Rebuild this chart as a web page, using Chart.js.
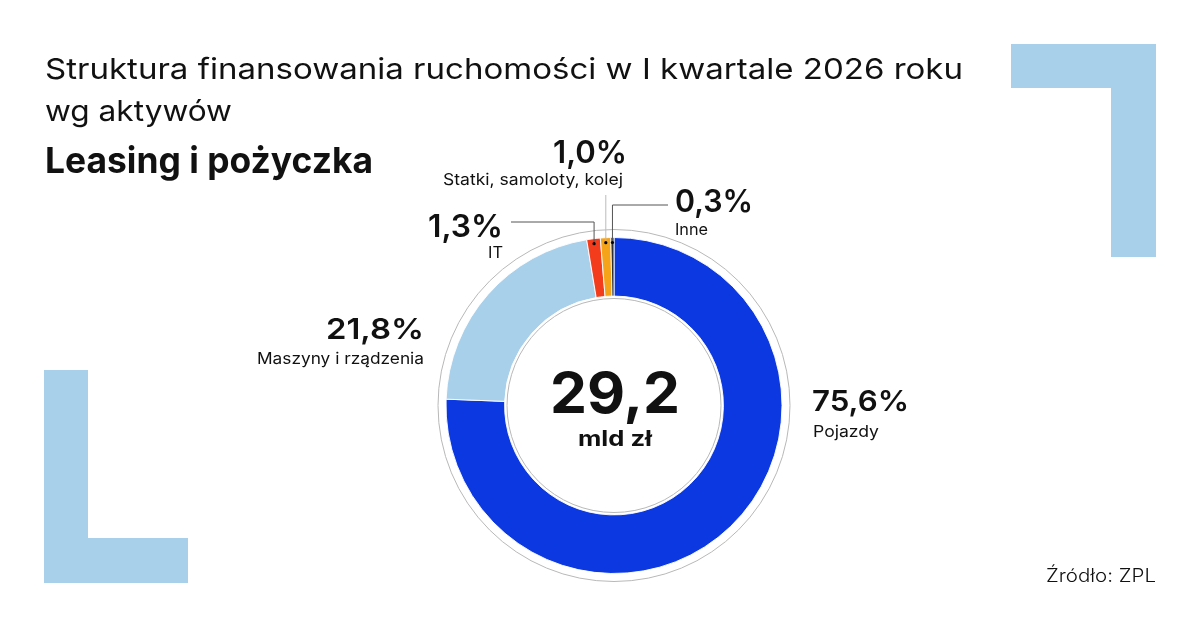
<!DOCTYPE html>
<html>
<head>
<meta charset="utf-8">
<script src="https://cdn.jsdelivr.net/npm/chart.js@4/dist/chart.umd.min.js"></script>
<style>
  html, body { margin: 0; padding: 0; background: #fff; }
  #wrap { width: 1200px; height: 627px; position: relative; }
</style>
</head>
<body>
<div id="wrap"><canvas id="chart" width="1200" height="627"></canvas></div>
<script>
const categories = ["Pojazdy", "Maszyny i rządzenia", "IT", "Statki, samoloty, kolej", "Inne"]
const shares = [75.6, 21.8, 1.3, 1.0, 0.3]
const sliceColors = ["#0b38e0", "#a9d0ea", "#f23c1c", "#f5a41a", "#2b2f36"]
const totalValue = "29,2"
const totalUnit = "mld zł"
const shareLabels = shares.map(v => v.toFixed(1).replace(".", ",") + "%")

const FONT = "Inter, 'Open Sans', sans-serif"

// draw text squeezed/stretched to a target width
function fitText(ctx, text, x, y, font, targetW, align) {
    ctx.font = font
    const w = ctx.measureText(text).width
    let left = x
    if (align == "right") left = x - targetW
    if (align == "center") left = x - targetW / 2
    ctx.save()
    ctx.translate(left, y)
    ctx.scale(targetW / w, 1)
    ctx.textAlign = "left"
    ctx.textBaseline = "alphabetic"
    ctx.fillText(text, 0, 0)
    ctx.restore()
}

const decor = {
    id: "decor",
    beforeDraw(chart) {
        const ctx = chart.ctx
        ctx.save()
        ctx.fillStyle = "#a9d0ea"
        // top right corner shape
        ctx.fillRect(1011, 44, 145, 44)
        ctx.fillRect(1111, 44, 45, 213)
        // bottom left corner shape
        ctx.fillRect(44, 370, 44, 213)
        ctx.fillRect(44, 538, 144, 45)
        ctx.restore()
    },
    afterDatasetsDraw(chart) {
        const ctx = chart.ctx
        const meta = chart.getDatasetMeta(0)
        const arc0 = meta.data[0]
        const cx = arc0.x, cy = arc0.y
        ctx.save()
        // thin guide rings
        ctx.strokeStyle = "#b8b8b8"
        ctx.lineWidth = 1
        ctx.beginPath(); ctx.arc(cx, cy, 176, 0, Math.PI * 2); ctx.stroke()
        ctx.beginPath(); ctx.arc(cx, cy, 107, 0, Math.PI * 2); ctx.stroke()

        // leader lines for small slices
        const dot = i => {
            const a = meta.data[i]
            const mid = (a.startAngle + a.endAngle) / 2
            return { x: cx + Math.cos(mid) * 163, y: cy + Math.sin(mid) * 163 }
        }
        const pIT = dot(2), pSt = dot(3), pIn = dot(4)
        ctx.lineWidth = 1
        ctx.strokeStyle = "#555"
        ctx.beginPath(); ctx.moveTo(pIT.x, pIT.y); ctx.lineTo(pIT.x, 222); ctx.lineTo(511, 222); ctx.stroke()
        ctx.beginPath(); ctx.moveTo(pIn.x, pIn.y); ctx.lineTo(pIn.x, 205); ctx.lineTo(668, 205); ctx.stroke()
        ctx.strokeStyle = "#bbb"
        ctx.beginPath(); ctx.moveTo(pSt.x, pSt.y); ctx.lineTo(pSt.x, 195); ctx.stroke()
        ctx.fillStyle = "#000"
        ;[pIT, pSt, pIn].forEach(p => { ctx.beginPath(); ctx.arc(p.x, p.y, 1.6, 0, Math.PI * 2); ctx.fill() })

        ctx.fillStyle = "#111"
        // titles
        fitText(ctx, "Struktura finansowania ruchomości w I kwartale 2026 roku", 45, 79, "400 29px " + FONT, 918, "left")
        fitText(ctx, "wg aktywów", 45, 121, "400 29px " + FONT, 187, "left")
        fitText(ctx, "Leasing i pożyczka", 45, 173, "700 36px " + FONT, 328, "left")

        // center
        fitText(ctx, totalValue, cx + 1, 413, "700 57px " + FONT, 130, "center")
        fitText(ctx, totalUnit, cx + 1, 446, "700 21px " + FONT, 74, "center")

        // slice labels
        fitText(ctx, shareLabels[0], 812, 411, "600 29px " + FONT, 97, "left")
        fitText(ctx, categories[0], 813, 437, "400 16px " + FONT, 66, "left")
        fitText(ctx, shareLabels[1], 424, 339, "600 29px " + FONT, 98, "right")
        fitText(ctx, categories[1], 424, 364, "400 16px " + FONT, 167, "right")
        fitText(ctx, shareLabels[2], 503, 237, "600 31px " + FONT, 75, "right")
        fitText(ctx, categories[2], 503, 258, "400 16px " + FONT, 15, "right")
        fitText(ctx, shareLabels[3], 627, 163, "600 31px " + FONT, 74, "right")
        fitText(ctx, categories[3], 623, 185, "400 16px " + FONT, 180, "right")
        fitText(ctx, shareLabels[4], 675, 212, "600 31px " + FONT, 78, "left")
        fitText(ctx, categories[4], 675, 235, "400 16px " + FONT, 33, "left")

        // source
        fitText(ctx, "Źródło: ZPL", 1156, 582, "300 18px " + FONT, 110, "right")
        ctx.restore()
    }
}

new Chart(document.getElementById("chart"), {
    type: "doughnut",
    data: {
        labels: categories,
        datasets: [{
            data: shares,
            backgroundColor: sliceColors,
            borderColor: "#fff",
            borderWidth: 0.9,
            hoverOffset: 0
        }]
    },
    options: {
        responsive: false,
        animation: false,
        radius: 168,
        cutout: 114,
        layout: { padding: { left: 300, right: 272, top: 230, bottom: 46 } },
        plugins: {
            legend: { display: false },
            tooltip: { enabled: false }
        }
    },
    plugins: [decor]
})
</script>
</body>
</html>
